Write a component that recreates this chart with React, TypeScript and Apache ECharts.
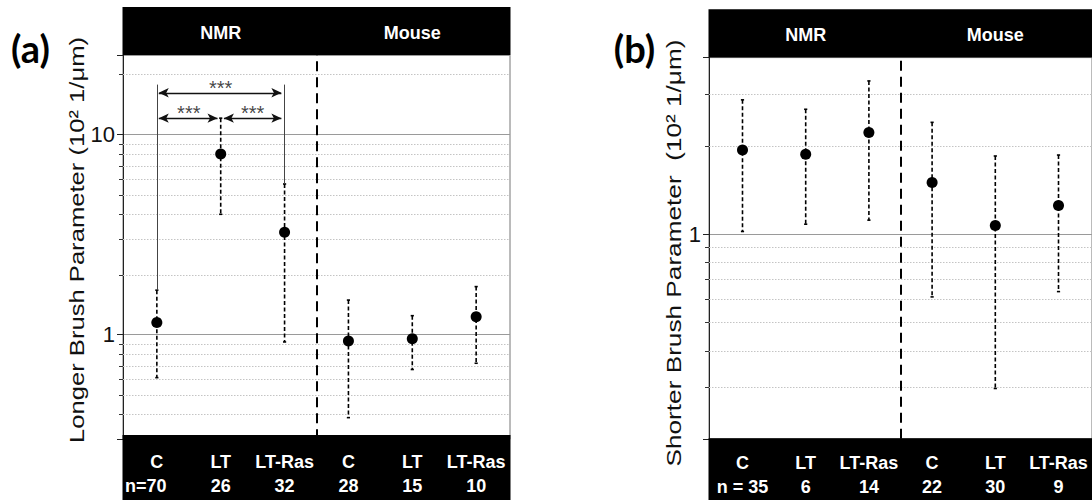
import React, { useEffect, useRef } from 'react';
import * as echarts from 'echarts';

// ---------- data ----------
const categories = ['C', 'LT', 'LT-Ras', 'C', 'LT', 'LT-Ras'];
const groups = ['NMR', 'Mouse'];

// panel (a) – Longer Brush Parameter
const nA = ['n=70', '26', '32', '28', '15', '10'];
const meanA = [1.15, 8.0, 3.25, 0.93, 0.955, 1.23];
const upperA = [1.67, 12.1, 5.67, 1.49, 1.245, 1.74];
const lowerA = [0.61, 4.0, 0.92, 0.385, 0.67, 0.72];

// panel (b) – Shorter Brush Parameter
const nB = ['n = 35', '6', '14', '22', '30', '9'];
const meanB = [1.935, 1.87, 2.22, 1.5, 1.07, 1.25];
const upperB = [2.87, 2.665, 3.33, 2.405, 1.846, 1.86];
const lowerB = [1.02, 1.08, 1.115, 0.61, 0.297, 0.636];

// y axis ranges and minor grid values
const yRangeA = [0.3, 25];
const yRangeB = [0.2, 4];
const minorA = [0.4, 0.5, 0.6, 0.7, 0.8, 0.9, 2, 3, 4, 5, 6, 7, 8, 9, 20];
const minorB = [0.3, 0.4, 0.5, 0.6, 0.7, 0.8, 0.9, 2, 3];

// significance annotations in (a)
const bracketArrows = [
  [1.03, 2.95, 16.2],
  [1.03, 1.95, 12.1],
  [2.05, 2.95, 12.1],
];
const bracketStemCats = [1, 3];
const bracketStemTop = 17.8;
const starPoints = [
  [2, 17.2],
  [1.5, 12.9],
  [2.5, 12.9],
];
const starText = '***';

const titleA = 'Longer Brush Parameter (10\u00B2 1/\u03BCm)';
const titleB = 'Shorter Brush Parameter  (10\u00B2 1/\u03BCm)';

// ---------- layout ----------
const FONT = 'Liberation Sans, Arial, sans-serif';
const X_RANGE = [0.47, 6.53];
const GA = { left: 123, top: 55.1, width: 387, height: 384.2 };
const GB = { left: 709, top: 57.6, width: 391, height: 381.2 };

const panels = [
  {
    grid: GA, n: nA, headerTop: 7, footerTop: 435, headerY: 33, row1: 461.7, row2: 486,
    label: '(a)', labelPos: [30.5, 48], title: titleA, titlePos: [77, 240], titleScale: 1.28, firstNLeft: true,
  },
  {
    grid: GB, n: nB, headerTop: 9.3, footerTop: 438.3, headerY: 35, row1: 463.3, row2: 487.3,
    label: '(b)', labelPos: [634.5, 48], title: titleB, titlePos: [674, 253], titleScale: 1.31, firstNLeft: false,
  },
];

const logLabel = (v: number) => {
  const l = Math.log10(v);
  return Math.abs(l - Math.round(l)) < 1e-6 ? String(Math.round(v)) : '';
};

function minorSeries(idx: number, values: number[]) {
  return {
    type: 'custom',
    xAxisIndex: idx,
    yAxisIndex: idx,
    silent: true,
    clip: false,
    z: 1,
    data: values.map((v) => [1, v]),
    encode: { x: 0, y: 1 },
    renderItem: (params: any, api: any) => {
      const cs = params.coordSys;
      const y = Math.round(api.coord([api.value(0), api.value(1)])[1]) + 0.5;
      return {
        type: 'group',
        children: [
          { type: 'line', shape: { x1: cs.x, y1: y, x2: cs.x + cs.width, y2: y }, style: { stroke: '#c4c4c4', lineWidth: 1, lineDash: [1.5, 1.5] } },
          { type: 'line', shape: { x1: cs.x - 4, y1: y, x2: cs.x, y2: y }, style: { stroke: '#333', lineWidth: 1 } },
        ],
      };
    },
  };
}

function errorSeries(idx: number, lo: number[], hi: number[]) {
  return {
    type: 'custom',
    xAxisIndex: idx,
    yAxisIndex: idx,
    silent: true,
    clip: false,
    z: 3,
    data: lo.map((v, i) => [i + 1, v, hi[i]]),
    encode: { x: 0, y: [1, 2] },
    renderItem: (params: any, api: any) => {
      const x = api.value(0);
      const pl = api.coord([x, api.value(1)]);
      const ph = api.coord([x, api.value(2)]);
      const cx = pl[0];
      return {
        type: 'group',
        children: [
          { type: 'line', shape: { x1: cx, y1: ph[1], x2: cx, y2: pl[1] }, style: { stroke: '#000', lineWidth: 1.6, lineDash: [4, 2.5] } },
          { type: 'line', shape: { x1: cx - 1.6, y1: ph[1], x2: cx + 1.6, y2: ph[1] }, style: { stroke: '#000', lineWidth: 1.6 } },
          { type: 'line', shape: { x1: cx - 1.6, y1: pl[1], x2: cx + 1.6, y2: pl[1] }, style: { stroke: '#000', lineWidth: 1.6 } },
        ],
      };
    },
  };
}

function meanSeries(idx: number, means: number[]) {
  return {
    type: 'scatter',
    xAxisIndex: idx,
    yAxisIndex: idx,
    silent: true,
    z: 5,
    symbol: 'circle',
    symbolSize: 11,
    itemStyle: { color: '#000', opacity: 1 },
    data: means.map((v, i) => [i + 1, v]),
    markLine: {
      silent: true,
      symbol: ['none', 'none'],
      label: { show: false },
      lineStyle: { color: '#000', width: 2, type: [10, 6] },
      data: [{ xAxis: 3.5 }],
    },
  };
}

function buildOption() {
  const yAxisBase = (idx: number, range: number[]) => ({
    gridIndex: idx,
    type: 'log',
    logBase: 10,
    min: range[0],
    max: range[1],
    axisLine: { show: true, lineStyle: { color: '#222', width: 1 } },
    axisTick: { show: true, length: 6, lineStyle: { color: '#222', width: 1 } },
    axisLabel: { formatter: logLabel, fontSize: 22, color: '#111', margin: 8, fontFamily: FONT },
    splitLine: { show: true, lineStyle: { color: '#9a9a9a', width: 1 } },
    minorTick: { show: false },
    minorSplitLine: { show: false },
  });
  const arrowData: any[] = bracketArrows.map(([x1, x2, y]) => [
    { coord: [x1, y], symbol: 'arrow' },
    { coord: [x2, y], symbol: 'arrow' },
  ]);
  const stemData: any[] = bracketStemCats.map((c) => [
    { coord: [c, upperA[c - 1]], symbol: 'none', lineStyle: { color: '#444', width: 1 } },
    { coord: [c, bracketStemTop], symbol: 'none' },
  ]);
  return {
    animation: false,
    backgroundColor: '#fff',
    grid: [
      { ...GA, show: true, borderColor: '#777', borderWidth: 1, backgroundColor: 'transparent' },
      { ...GB, show: true, borderColor: '#777', borderWidth: 1, backgroundColor: 'transparent' },
    ],
    xAxis: [
      { gridIndex: 0, type: 'value', min: X_RANGE[0], max: X_RANGE[1], show: false },
      { gridIndex: 1, type: 'value', min: X_RANGE[0], max: X_RANGE[1], show: false },
    ],
    yAxis: [yAxisBase(0, yRangeA), yAxisBase(1, yRangeB)],
    series: [
      minorSeries(0, minorA),
      minorSeries(1, minorB),
      errorSeries(0, lowerA, upperA),
      errorSeries(1, lowerB, upperB),
      meanSeries(0, meanA),
      meanSeries(1, meanB),
      {
        type: 'scatter',
        xAxisIndex: 0,
        yAxisIndex: 0,
        silent: true,
        z: 4,
        symbolSize: 1,
        itemStyle: { color: 'transparent' },
        data: starPoints,
        label: {
          show: true,
          position: 'inside',
          formatter: () => starText,
          fontSize: 20,
          color: '#111',
          fontFamily: FONT,
        },
        markLine: {
          silent: true,
          symbolSize: [7, 10],
          label: { show: false },
          lineStyle: { color: '#111', width: 1.3, type: 'solid' },
          data: [...stemData, ...arrowData],
        },
      },
    ],
  };
}

function txt(x: number, y: number, text: string, size: number, weight: string, color: string, align = 'center', family = FONT) {
  return {
    type: 'text',
    x,
    y,
    z: 100,
    silent: true,
    style: {
      text,
      fill: color,
      fontSize: size,
      fontWeight: weight,
      fontFamily: family,
      align,
      textAlign: align,
      verticalAlign: 'middle',
      textVerticalAlign: 'middle',
    },
  };
}

function buildGraphic(chart: any) {
  const els: any[] = [];
  panels.forEach((p, i) => {
    const px = (v: number) => chart.convertToPixel({ xAxisIndex: i }, v) as number;
    const g = p.grid;
    // header bar
    els.push({
      type: 'rect', z: 100, silent: true,
      shape: { x: g.left - 0.5, y: p.headerTop, width: g.width + 1, height: g.top - p.headerTop },
      style: { fill: '#000' },
    });
    els.push(txt(px(2), p.headerY, groups[0], 18, 'bold', '#fff'));
    els.push(txt(px(5), p.headerY, groups[1], 18, 'bold', '#fff'));
    // footer bar
    els.push({
      type: 'rect', z: 100, silent: true,
      shape: { x: g.left - 0.5, y: p.footerTop, width: g.width + 1, height: 500 - p.footerTop },
      style: { fill: '#000' },
    });
    categories.forEach((c, k) => {
      els.push(txt(px(k + 1), p.row1, c, 18, 'bold', '#fff'));
      if (k === 0 && p.firstNLeft) {
        els.push(txt(g.left + 2, p.row2, p.n[k], 18, 'bold', '#fff', 'left'));
      } else {
        els.push(txt(px(k + 1), p.row2, p.n[k], 18, 'bold', '#fff'));
      }
    });
    // panel letter
    els.push(txt(p.labelPos[0], p.labelPos[1], p.label, 38, 'bold', '#000', 'center', 'Lato, sans-serif'));
    // y title (rotated, stretched along its length)
    els.push({
      type: 'text',
      x: p.titlePos[0],
      y: p.titlePos[1],
      rotation: Math.PI / 2,
      scaleX: p.titleScale,
      z: 100,
      silent: true,
      style: {
        text: p.title,
        fill: '#111',
        fontSize: 20,
        fontFamily: FONT,
        align: 'center',
        textAlign: 'center',
        verticalAlign: 'middle',
        textVerticalAlign: 'middle',
      },
    });
  });
  return els;
}

export default function App() {
  const ref = useRef<HTMLDivElement>(null);
  useEffect(() => {
    document.body.style.margin = '0';
    const chart = echarts.init(ref.current as HTMLDivElement, null, { renderer: 'svg' });
    chart.setOption(buildOption() as any);
    chart.setOption({ graphic: buildGraphic(chart) } as any);
    return () => chart.dispose();
  }, []);
  return <div ref={ref} style={{ width: 1092, height: 500 }} />;
}
